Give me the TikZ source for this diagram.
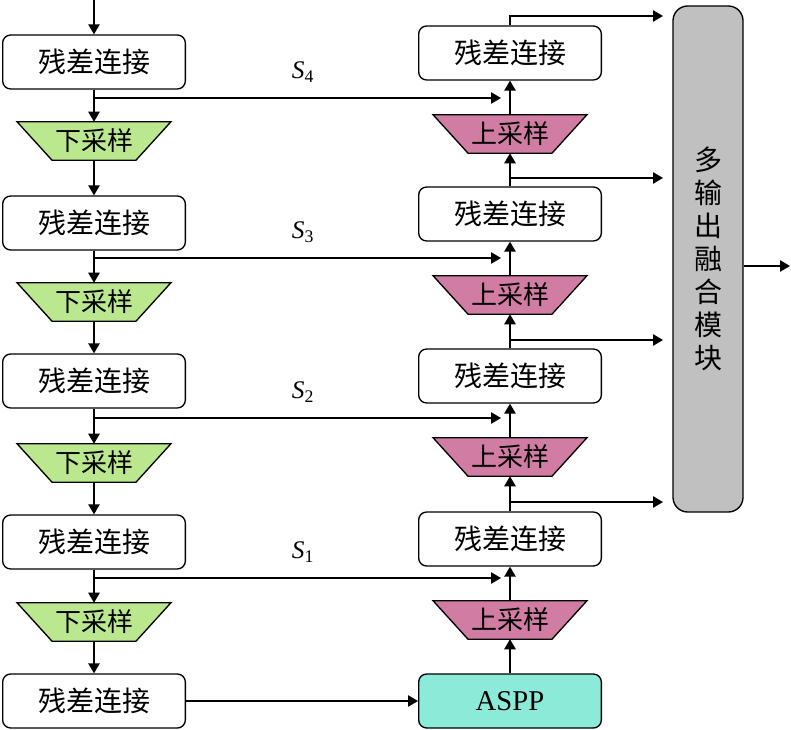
\documentclass[tikz,border=0pt]{standalone}
\usepackage{fontspec}
\setmainfont{Liberation Serif}
\newfontfamily\cjk{Noto Sans CJK SC}
\usetikzlibrary{arrows.meta, positioning, backgrounds}

\definecolor{downgreen}{RGB}{187,232,142}
\definecolor{uppink}{RGB}{209,124,162}
\definecolor{asppcyan}{RGB}{140,234,216}
\definecolor{fusegray}{RGB}{192,192,192}

\begin{document}
\begin{tikzpicture}[x=0.75pt, y=-0.75pt, every node/.style={font=\cjk\fontsize{21}{25}\selectfont}, align=center]
    % Define styles for the blocks
    \tikzstyle{resblock} = [rectangle, rounded corners=6pt, minimum width=137pt, minimum height=40.5pt, inner sep=0pt, draw=black, line width=1pt, fill=white]
    \tikzstyle{sampler} = [rectangle, minimum width=115pt, minimum height=28.5pt, inner sep=0pt, font=\cjk\fontsize{19.5}{22}\selectfont]
    \tikzstyle{trapbox} = [draw=black, line width=1pt, line join=miter]
    \tikzstyle{arrow} = [line width=1.2pt, ->, >={Triangle[length=7.5pt, width=8.5pt]}]
    \tikzstyle{skiplabel} = [font=\fontsize{19}{21}\selectfont]

    \useasboundingbox (0,0) rectangle (791,730);

    % Encoder column
    \node (lb1) [resblock] at (94,62) {残差连接};
    \node (ld1) [sampler] at (94,141) {下采样};
    \node (lb2) [resblock] at (94,223) {残差连接};
    \node (ld2) [sampler] at (94,302) {下采样};
    \node (lb3) [resblock] at (94,381) {残差连接};
    \node (ld3) [sampler] at (94,463) {下采样};
    \node (lb4) [resblock] at (94,542) {残差连接};
    \node (ld4) [sampler] at (94,622) {下采样};
    \node (lb5) [resblock] at (94,701) {残差连接};

    % Decoder column
    \node (aspp) [resblock, fill=asppcyan, font=\fontsize{21.5}{25}\selectfont] at (510,701) {ASPP};
    \node (ru4) [sampler] at (510,620) {上采样};
    \node (rb4) [resblock] at (510,539) {残差连接};
    \node (ru3) [sampler] at (510,457) {上采样};
    \node (rb3) [resblock] at (510,376) {残差连接};
    \node (ru2) [sampler] at (510,295) {上采样};
    \node (rb2) [resblock] at (510,214) {残差连接};
    \node (ru1) [sampler] at (510,134) {上采样};
    \node (rb1) [resblock] at (510,53) {残差连接};

    % Trapezoids behind the sampler texts
    \begin{pgfonlayer}{background}
        \foreach \n/\c in {ld1/downgreen, ld2/downgreen, ld3/downgreen, ld4/downgreen, ru1/uppink, ru2/uppink, ru3/uppink, ru4/uppink} {
            \filldraw [trapbox, fill=\c] (\n.north west) -- (\n.north east) -- ([xshift=-26.25pt]\n.south east) -- ([xshift=26.25pt]\n.south west) -- cycle;
        }
    \end{pgfonlayer}

    % Fusion block
    \node (fuse) [rectangle, rounded corners=11pt, minimum width=52.5pt, minimum height=379.5pt, draw=black, line width=1pt, fill=fusegray, font=\cjk\fontsize{21}{24.75}\selectfont] at (708,259) {多\\输\\出\\融\\合\\模\\块};

    % Skip connection labels
    \node (s4) [skiplabel] at (303,72) {\textit{S}\textsubscript{4}};
    \node (s3) [skiplabel] at (303,232) {\textit{S}\textsubscript{3}};
    \node (s2) [skiplabel] at (303,392) {\textit{S}\textsubscript{2}};
    \node (s1) [skiplabel] at (303,552) {\textit{S}\textsubscript{1}};

    % Free ends of connectors
    \coordinate (in) at (94,0);
    \coordinate (out) at (790,266);
    \foreach \i/\y in {4/98, 3/258, 2/418, 1/578} {
        \coordinate (sa\i) at (94,\y);
        \coordinate (sb\i) at (501,\y);
    }
    \foreach \i/\y in {1/16, 2/178, 3/340, 4/502} {
        \coordinate (ta\i) at (510,\y);
        \coordinate (tb\i) at (663,\y);
    }

    % Draw arrows down the encoder
    \draw [arrow] (in) -- (lb1);
    \draw [arrow] (lb1) -- (ld1);
    \draw [arrow] (ld1) -- (lb2);
    \draw [arrow] (lb2) -- (ld2);
    \draw [arrow] (ld2) -- (lb3);
    \draw [arrow] (lb3) -- (ld3);
    \draw [arrow] (ld3) -- (lb4);
    \draw [arrow] (lb4) -- (ld4);
    \draw [arrow] (ld4) -- (lb5);
    \draw [arrow] (lb5) -- (aspp);

    % Draw arrows up the decoder
    \draw [arrow] (aspp) -- (ru4);
    \draw [arrow] (ru4) -- (rb4);
    \draw [arrow] (rb4) -- (ru3);
    \draw [arrow] (ru3) -- (rb3);
    \draw [arrow] (rb3) -- (ru2);
    \draw [arrow] (ru2) -- (rb2);
    \draw [arrow] (rb2) -- (ru1);
    \draw [arrow] (ru1) -- (rb1);

    % Skip connections
    \foreach \i in {1,...,4} {
        \draw [arrow] (sa\i) -- (sb\i);
    }

    % Outputs into the fusion block
    \draw [arrow] (rb1.north) |- (tb1);
    \foreach \i in {2,3,4} {
        \draw [arrow] (ta\i) -- (tb\i);
    }
    \draw [arrow] (fuse.east |- out) -- (out);

\end{tikzpicture}
\end{document}
